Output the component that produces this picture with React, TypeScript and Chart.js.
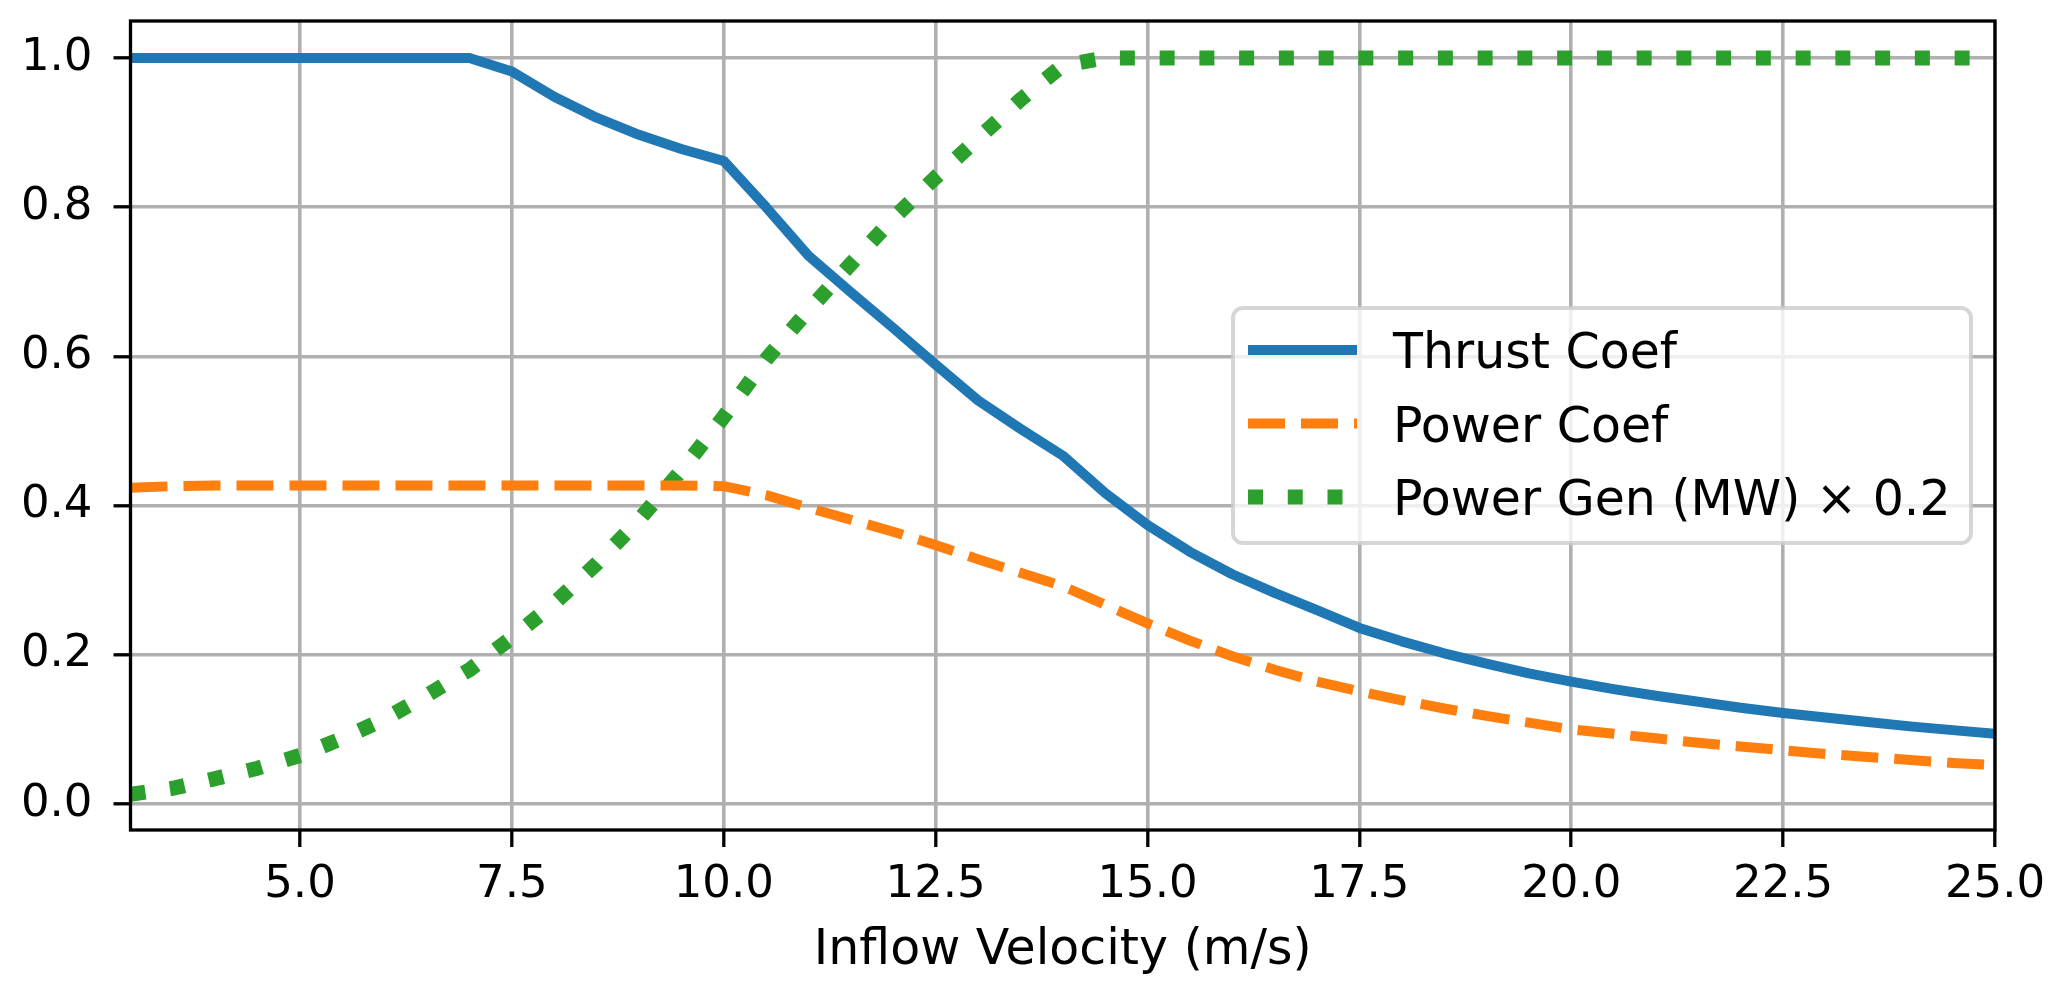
import React, { useEffect, useRef } from "react";
import { Chart, registerables } from "chart.js";

Chart.register(...registerables);

// inflow velocity (m/s)
const velocity = [
  3, 3.5, 4, 4.5, 5, 5.5, 6, 6.5, 7, 7.5, 8, 8.5, 9, 9.5, 10, 10.5, 11, 11.5,
  12, 12.5, 13, 13.5, 14, 14.5, 15, 15.5, 16, 16.5, 17, 17.5, 18, 18.5, 19,
  19.5, 20, 20.5, 21, 21.5, 22, 22.5, 23, 23.5, 24, 24.5, 25,
];

const thrustCoef = [
  1.0, 1.0, 1.0, 1.0, 1.0, 1.0, 1.0, 1.0, 1.0, 0.982, 0.948, 0.92, 0.897,
  0.878, 0.862, 0.8, 0.735, 0.686, 0.638, 0.589, 0.541, 0.503, 0.467, 0.417,
  0.374, 0.338, 0.308, 0.283, 0.26, 0.236, 0.218, 0.202, 0.188, 0.175, 0.164,
  0.154, 0.145, 0.137, 0.129, 0.122, 0.116, 0.11, 0.104, 0.099, 0.094,
];

const powerCoef = [
  0.424, 0.426, 0.427, 0.427, 0.427, 0.427, 0.427, 0.427, 0.427, 0.427, 0.427,
  0.427, 0.427, 0.427, 0.426, 0.414, 0.397, 0.381, 0.365, 0.347, 0.328, 0.31,
  0.292, 0.267, 0.242, 0.219, 0.198, 0.18, 0.164, 0.151, 0.139, 0.128, 0.118,
  0.109, 0.1, 0.094, 0.088, 0.082, 0.077, 0.072, 0.067, 0.063, 0.059, 0.055,
  0.052,
];

// generated power in MW (plotted scaled by POWER_SCALE)
const powerGenMW = [
  0.065, 0.105, 0.17, 0.24, 0.325, 0.44, 0.57, 0.73, 0.9, 1.115, 1.345, 1.61,
  1.905, 2.235, 2.595, 2.98, 3.31, 3.62, 3.925, 4.2, 4.46, 4.72, 4.95, 5.0,
  5.0, 5.0, 5.0, 5.0, 5.0, 5.0, 5.0, 5.0, 5.0, 5.0, 5.0, 5.0, 5.0, 5.0, 5.0,
  5.0, 5.0, 5.0, 5.0, 5.0, 5.0,
];
const POWER_SCALE = 0.2;

const seriesLabels = ["Thrust Coef", "Power Coef", "Power Gen (MW) × 0.2"];
const seriesColors = ["#1f77b4", "#ff7f0e", "#2ca02c"];

const xTicks = [5, 7.5, 10, 12.5, 15, 17.5, 20, 22.5, 25];
const yTicks = [0, 0.2, 0.4, 0.6, 0.8, 1.0];

const FONT = "'DejaVu Sans', sans-serif";

const toPoints = (ys: number[]) =>
  velocity.map((v, i) => ({ x: v, y: ys[i] }));

// matplotlib-like full frame around the axes
const spinesPlugin = {
  id: "spines",
  afterDatasetsDraw(chart: any) {
    const { ctx, chartArea } = chart;
    ctx.save();
    ctx.strokeStyle = "#000";
    ctx.lineWidth = 3.3;
    ctx.strokeRect(
      chartArea.left,
      chartArea.top,
      chartArea.right - chartArea.left,
      chartArea.bottom - chartArea.top
    );
    ctx.restore();
  },
};

// legend box at "center right"
const legendPlugin = {
  id: "mplLegend",
  afterDraw(chart: any) {
    const { ctx, chartArea } = chart;
    const w = 738;
    const h = 235;
    const x0 = chartArea.right - 24 - w;
    const y0 = (chartArea.top + chartArea.bottom) / 2 - h / 2;
    ctx.save();
    ctx.beginPath();
    ctx.roundRect(x0, y0, w, h, 10);
    ctx.fillStyle = "rgba(255,255,255,0.8)";
    ctx.fill();
    ctx.strokeStyle = "rgba(204,204,204,0.8)";
    ctx.lineWidth = 4;
    ctx.stroke();

    chart.data.datasets.forEach((ds: any, i: number) => {
      const y = y0 + 42 + i * 73.5;
      ctx.beginPath();
      ctx.strokeStyle = ds.borderColor;
      ctx.lineWidth = ds.borderWidth;
      ctx.lineCap = "butt";
      ctx.setLineDash(ds.borderDash || []);
      ctx.moveTo(x0 + 15, y);
      ctx.lineTo(x0 + 124, y);
      ctx.stroke();
      ctx.setLineDash([]);
      ctx.fillStyle = "#000";
      ctx.font = `49px ${FONT}`;
      ctx.textBaseline = "alphabetic";
      ctx.textAlign = "left";
      ctx.fillText(ds.label, x0 + 160, y + 18);
    });
    ctx.restore();
  },
};

const noScalePadding = (s: any) => {
  s.paddingTop = 0;
  s.paddingBottom = 0;
  s.paddingLeft = 0;
  s.paddingRight = 0;
};

const App = () => {
  const canvasRef = useRef<HTMLCanvasElement>(null);
  const chartRef = useRef<Chart | null>(null);

  useEffect(() => {
    document.body.style.margin = "0";
    if (!canvasRef.current) return;

    chartRef.current?.destroy();

    chartRef.current = new Chart(canvasRef.current, {
      type: "line",
      data: {
        datasets: [
          {
            label: seriesLabels[0],
            data: toPoints(thrustCoef),
            borderColor: seriesColors[0],
            borderWidth: 10,
            borderJoinStyle: "round",
            borderCapStyle: "butt",
            pointRadius: 0,
            tension: 0,
            clip: 0,
          },
          {
            label: seriesLabels[1],
            data: toPoints(powerCoef),
            borderColor: seriesColors[1],
            borderWidth: 10,
            borderDash: [37, 16],
            borderJoinStyle: "round",
            borderCapStyle: "butt",
            pointRadius: 0,
            tension: 0,
            clip: 0,
          },
          {
            label: seriesLabels[2],
            data: toPoints(powerGenMW.map((p) => p * POWER_SCALE)),
            borderColor: seriesColors[2],
            borderWidth: 15,
            borderDash: [15, 24.75],
            borderJoinStyle: "round",
            borderCapStyle: "butt",
            pointRadius: 0,
            tension: 0,
            clip: 0,
          },
        ],
      },
      options: {
        animation: false,
        responsive: false,
        devicePixelRatio: 1,
        layout: {
          padding: { top: 21, right: 72, left: 0, bottom: 0 },
        },
        plugins: {
          legend: { display: false },
          tooltip: { enabled: false },
        },
        scales: {
          x: {
            type: "linear",
            min: 3,
            max: 25,
            afterBuildTicks: (s: any) => {
              s.ticks = xTicks.map((v) => ({ value: v }));
            },
            afterFit: (s: any) => {
              s.height = 171;
              noScalePadding(s);
            },
            ticks: {
              callback: (v: any) => Number(v).toFixed(1),
              font: { family: FONT, size: 45 },
              color: "#000",
              padding: 11,
              maxRotation: 0,
              autoSkip: false,
            },
            grid: {
              color: "#b0b0b0",
              lineWidth: 3.6,
              tickColor: "#000",
              tickWidth: 3.3,
              tickLength: 17,
            },
            border: { display: false },
            title: {
              display: true,
              text: "Inflow Velocity (m/s)",
              font: { family: FONT, size: 49 },
              color: "#000",
              padding: { top: 0, bottom: 20 },
            },
          },
          y: {
            type: "linear",
            min: -0.0349,
            max: 1.0496,
            afterBuildTicks: (s: any) => {
              s.ticks = yTicks.map((v) => ({ value: v }));
            },
            afterFit: (s: any) => {
              s.width = 130.5;
              noScalePadding(s);
            },
            ticks: {
              callback: (v: any) => Number(v).toFixed(1),
              font: { family: FONT, size: 45 },
              color: "#000",
              padding: 21,
              autoSkip: false,
            },
            grid: {
              color: "#b0b0b0",
              lineWidth: 3.6,
              tickColor: "#000",
              tickWidth: 3.3,
              tickLength: 17,
            },
            border: { display: false },
          },
        },
      },
      plugins: [spinesPlugin, legendPlugin],
    });

    return () => {
      chartRef.current?.destroy();
    };
  }, []);

  return (
    <div style={{ width: 2067, height: 1001, background: "#fff" }}>
      <canvas
        ref={canvasRef}
        width={2067}
        height={1001}
        style={{ display: "block" }}
      />
    </div>
  );
};

export default App;
